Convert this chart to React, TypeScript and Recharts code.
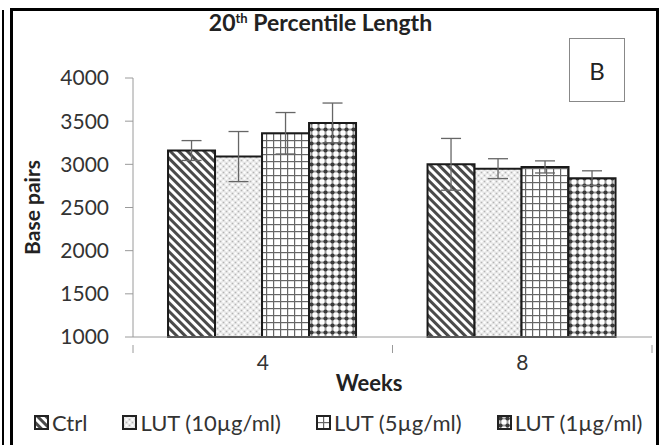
import { FC } from 'react'
import { BarChart, Bar, XAxis, YAxis, ErrorBar } from 'recharts'

// data
const weeks = ['4', '8']
const ctrl = [3160, 3000]
const ctrlErr = [115, 300]
const lut10 = [3090, 2950]
const lut10Err = [290, 115]
const lut5 = [3360, 2970]
const lut5Err = [240, 70]
const lut1 = [3480, 2840]
const lut1Err = [230, 85]
const yTicks = [1000, 1500, 2000, 2500, 3000, 3500, 4000]

const series = [
  { key: 'ctrl', name: 'Ctrl', fill: 'url(#pCtrl)' },
  { key: 'lut10', name: 'LUT (10µg/ml)', fill: 'url(#pLut10)' },
  { key: 'lut5', name: 'LUT (5µg/ml)', fill: 'url(#pLut5)' },
  { key: 'lut1', name: 'LUT (1µg/ml)', fill: 'url(#pLut1)' },
]

const data = weeks.map((w, i) => ({
  week: w,
  ctrl: ctrl[i],
  ctrlErr: ctrlErr[i],
  lut10: lut10[i],
  lut10Err: lut10Err[i],
  lut5: lut5[i],
  lut5Err: lut5Err[i],
  lut1: lut1[i],
  lut1Err: lut1Err[i],
}))

const W = 663
const H = 445
const X_H = 30
const margin = { top: 78, right: 11, bottom: 108 - X_H, left: 0 }
const Y_W = 133
const HALF_BAND = (W - margin.left - margin.right - Y_W) / weeks.length / 2
const FONT = 'Lato, "Noto Sans", sans-serif'
const AXIS = '#9a9a9a'

const WeekTick: FC<any> = ({ x, y, payload, index, visibleTicksCount }) => (
  <g>
    <line x1={x - HALF_BAND} y1={y} x2={x - HALF_BAND} y2={y + 8} stroke={AXIS} />
    {index === visibleTicksCount - 1 && (
      <line x1={x + HALF_BAND} y1={y} x2={x + HALF_BAND} y2={y + 8} stroke={AXIS} />
    )}
    <text x={x} y={y + 25} textAnchor="middle" fontSize={21} fill="#333" fontFamily={FONT}>
      {payload.value}
    </text>
  </g>
)

const Patterns = () => (
  <svg width={0} height={0} style={{ position: 'absolute' }}>
    <defs>
      <pattern id="pCtrl" width={6} height={6} patternUnits="userSpaceOnUse" patternTransform="rotate(-45)">
        <rect width={6} height={6} fill="#fff" />
        <rect width={3} height={6} fill="#4a4a4a" />
      </pattern>
      <pattern id="pLut10" width={6} height={6} patternUnits="userSpaceOnUse">
        <rect width={6} height={6} fill="#e6e6e6" />
        <circle cx={1.5} cy={1.5} r={1.3} fill="#fff" />
        <circle cx={4.5} cy={4.5} r={1.3} fill="#fff" />
        <circle cx={4.5} cy={1.5} r={0.8} fill="#b5b5b5" />
        <circle cx={1.5} cy={4.5} r={0.8} fill="#b5b5b5" />
      </pattern>
      <pattern id="pLut5" width={7} height={7} patternUnits="userSpaceOnUse">
        <rect width={7} height={7} fill="#fff" />
        <rect width={1.2} height={7} fill="#666" />
        <rect width={7} height={1.2} fill="#666" />
      </pattern>
      <pattern id="pLut1" width={7} height={7} patternUnits="userSpaceOnUse">
        <rect width={7} height={7} fill="#fff" />
        <rect x={2.5} width={2} height={7} fill="#999" />
        <rect y={2.5} width={7} height={2} fill="#999" />
        <circle cx={3.5} cy={3.5} r={2.1} fill="#3a3a3a" />
      </pattern>
    </defs>
  </svg>
)

const LegendIcon: FC<{ fill: string }> = ({ fill }) => (
  <svg width={15} height={15} style={{ marginRight: 3 }}>
    <rect x={1} y={1} width={13} height={13} fill={fill} stroke="#222" strokeWidth={2} />
  </svg>
)

const App: FC = () => {
  return (
    <div style={{ position: 'absolute', left: 0, top: 0, width: W, height: H, background: '#fff', fontFamily: FONT }}>
      <Patterns />
      {/* frame lines */}
      <div style={{ position: 'absolute', left: 2, top: 10, width: 2, height: H - 10, background: '#000' }} />
      <div style={{ position: 'absolute', left: 10, top: 8, width: 649, height: H - 8, borderLeft: '3px solid #000', borderTop: '3px solid #000', borderRight: '3px solid #000', boxSizing: 'border-box' }} />
      <div style={{ position: 'absolute', left: 0, top: 8, width: W, textAlign: 'center', fontWeight: 700, fontSize: 23, color: '#222', paddingRight: 22, boxSizing: 'border-box' }}>
        20<sup style={{ fontSize: 13, verticalAlign: 8, lineHeight: 0 }}>th</sup> Percentile Length
      </div>
      <div style={{ position: 'absolute', left: 569, top: 38, width: 56, height: 64, border: '1.5px solid #888', boxSizing: 'border-box', display: 'flex', alignItems: 'center', justifyContent: 'center', fontSize: 24, color: '#222' }}>
        B
      </div>
      <BarChart width={W} height={H} data={data} margin={margin} barCategoryGap="13.5%" barGap={0}>
        <XAxis dataKey="week" height={X_H} axisLine={{ stroke: AXIS }} tickLine={false} tick={<WeekTick />} interval={0} />
        <YAxis
          width={Y_W}
          domain={[1000, 4000]}
          ticks={yTicks}
          interval={0}
          axisLine={{ stroke: AXIS }}
          tickLine={{ stroke: AXIS }}
          tickSize={8}
          tickMargin={16}
          tick={{ fontSize: 21, fill: '#333', fontFamily: FONT }}
          label={{ value: 'Base pairs', angle: -90, position: 'insideLeft', dx: 28, style: { fontSize: 21, fontWeight: 700, fill: '#222', fontFamily: FONT, textAnchor: 'middle' } }}
        />
        {series.map((s) => (
          <Bar key={s.key} dataKey={s.key} name={s.name} fill={s.fill} stroke="#1a1a1a" strokeWidth={2} isAnimationActive={false}>
            <ErrorBar dataKey={`${s.key}Err`} width={10} stroke="#666" strokeWidth={1.3} direction="y" isAnimationActive={false} />
          </Bar>
        ))}
      </BarChart>
      <div style={{ position: 'absolute', left: 0, top: 369, width: 738, textAlign: 'center', fontWeight: 700, fontSize: 22, color: '#222' }}>
        Weeks
      </div>
      <div style={{ position: 'absolute', left: 34, top: 409, display: 'flex', alignItems: 'center', fontSize: 22, color: '#333' }}>
        {series.map((s, i) => (
          <div key={s.key} style={{ display: 'flex', alignItems: 'center', marginLeft: i === 0 ? 0 : 35 }}>
            <LegendIcon fill={s.fill} />
            <span>{s.name}</span>
          </div>
        ))}
      </div>
    </div>
  )
}

export default App
